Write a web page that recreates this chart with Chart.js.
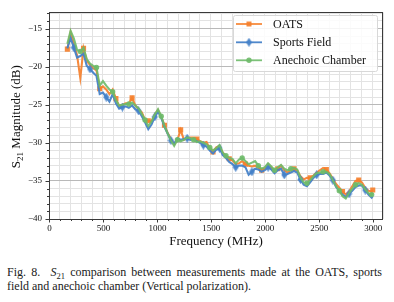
<!DOCTYPE html>
<html>
<head>
<meta charset="utf-8">
<script src="https://cdn.jsdelivr.net/npm/chart.js@4.4.1/dist/chart.umd.min.js"></script>
<style>
    html, body { margin: 0; padding: 0; background: #fff; }
    #wrap { position: relative; width: 394px; height: 302px; }
    #chart { position: absolute; left: 0; top: 0; }
    .cap {
        position: absolute; left: 7px;
        font-family: "Liberation Serif", "Times New Roman", serif;
        font-size: 12px; line-height: 13.3px; color: #1a1a1a;
        white-space: nowrap;
    }
    .cap sub { font-size: 8.5px; line-height: 0; vertical-align: -2.5px; }
    #cap1 { top: 266px; }
    #cap2 { top: 279.5px; }
</style>
</head>
<body>
<div id="wrap">
    <canvas id="chart" width="394" height="250"></canvas>
    <div class="cap" id="cap1"><span id="cap1in">Fig. 8.&nbsp; <i>S</i><sub>21</sub> comparison between measurements made at the OATS, sports</span></div>
    <div class="cap" id="cap2">field and anechoic chamber (Vertical polarization).</div>
</div>
<script>
(function () {
    "use strict";

    // frequency (MHz)
    const freqs = [
        170, 200, 230, 260, 290, 320, 350, 380, 410, 440,
        470, 500, 530, 560, 590, 620, 650, 680, 710, 740,
        770, 800, 830, 860, 890, 920, 950, 980, 1010, 1040,
        1070, 1100, 1130, 1160, 1190, 1220, 1250, 1280, 1310, 1340,
        1370, 1400, 1430, 1460, 1490, 1520, 1550, 1580, 1610, 1640,
        1670, 1700, 1730, 1760, 1790, 1820, 1850, 1880, 1910, 1940,
        1970, 2000, 2030, 2060, 2090, 2120, 2150, 2180, 2210, 2240,
        2270, 2300, 2330, 2360, 2390, 2420, 2450, 2480, 2510, 2540,
        2570, 2600, 2630, 2660, 2690, 2720, 2750, 2780, 2810, 2840,
        2870, 2900, 2930, 2960, 2990, 3000,
    ];

    // S21 (dB)
    const oats = [
        -17.7, -15.5, -17.0, -18.5, -21.5, -17.6, -19.2, -19.8, -20.2, -20.5,
        -22.9, -22.6, -23.0, -23.6, -23.0, -24.2, -25.2, -25.0, -24.8, -24.8,
        -24.1, -25.1, -25.6, -26.0, -27.0, -27.1, -27.2, -26.3, -25.7, -26.6,
        -27.7, -28.7, -29.5, -30.2, -29.6, -28.3, -29.6, -29.4, -29.3, -29.3,
        -29.5, -29.8, -30.0, -29.9, -30.8, -31.2, -30.6, -30.4, -31.3, -31.7,
        -32.1, -32.3, -32.8, -32.7, -32.4, -32.8, -33.0, -33.1, -33.0, -33.3,
        -33.6, -33.4, -32.8, -33.2, -33.7, -33.4, -33.0, -33.6, -33.9, -33.6,
        -33.4, -33.6, -34.4, -34.8, -34.6, -34.6, -34.3, -33.9, -33.6, -33.3,
        -33.5, -34.0, -34.7, -35.4, -35.9, -36.4, -36.8, -36.4, -35.7, -35.0,
        -34.9, -35.2, -35.9, -36.3, -36.4, -36.2,
    ];
    const sportsField = [
        -17.6, -16.2, -17.5, -18.8, -18.6, -18.3, -19.9, -20.3, -20.8, -21.2,
        -23.6, -23.4, -24.0, -24.6, -23.6, -24.8, -25.5, -25.3, -25.2, -25.4,
        -25.1, -25.6, -25.8, -26.5, -27.3, -28.2, -27.6, -26.6, -25.9, -26.7,
        -27.9, -28.8, -29.7, -30.1, -29.4, -29.6, -29.5, -29.4, -29.6, -29.5,
        -29.8, -30.0, -30.3, -30.5, -31.0, -31.4, -30.9, -30.7, -31.6, -32.0,
        -32.5, -32.8, -33.2, -33.0, -33.0, -33.2, -34.2, -33.8, -33.4, -33.5,
        -33.8, -33.6, -33.2, -33.5, -34.0, -33.6, -33.4, -34.2, -34.1, -33.9,
        -33.7, -33.9, -34.8, -35.5, -35.7, -35.2, -34.6, -34.2, -34.1, -34.1,
        -33.9, -34.3, -34.9, -35.8, -36.3, -36.8, -37.1, -36.7, -36.3, -35.8,
        -35.6, -35.6, -36.2, -36.8, -37.2, -37.0,
    ];
    const anechoic = [
        -17.0, -15.3, -16.3, -17.8, -18.0, -17.5, -19.0, -19.6, -19.9, -20.1,
        -22.5, -21.9, -22.5, -23.0, -23.3, -24.4, -25.1, -25.0, -24.9, -24.9,
        -24.7, -25.1, -25.5, -26.2, -27.0, -27.8, -27.2, -26.3, -25.6, -26.5,
        -27.8, -28.8, -29.7, -30.4, -29.6, -29.8, -29.6, -29.3, -29.4, -29.6,
        -29.9, -29.8, -30.0, -30.2, -30.6, -31.0, -30.7, -30.3, -31.3, -31.7,
        -32.0, -32.1, -32.7, -32.2, -32.0, -32.4, -32.8, -32.6, -32.4, -33.0,
        -33.4, -33.2, -32.7, -33.1, -33.6, -33.2, -32.9, -33.4, -33.6, -33.4,
        -33.3, -33.5, -34.6, -35.2, -35.3, -34.9, -34.4, -34.0, -33.9, -33.8,
        -33.8, -34.1, -34.9, -35.7, -36.3, -37.0, -37.3, -36.6, -36.0, -35.5,
        -35.3, -35.5, -36.1, -36.6, -36.8, -36.6,
    ];

    const seriesNames = ["OATS", "Sports Field", "Anechoic Chamber"];
    const xTicks = [0, 500, 1000, 1500, 2000, 2500, 3000];
    const yTicks = [-40, -35, -30, -25, -20, -15];

    const ORANGE = "rgba(245, 128, 45, 0.92)";
    const BLUE = "rgba(70, 130, 200, 0.95)";
    const GREEN = "rgba(110, 186, 105, 0.9)";
    const SERIF = "'Liberation Serif', 'Times New Roman', serif";

    // stretch the first caption line to the full text width
    const cap1 = document.getElementById("cap1in");
    const gaps = cap1.textContent.split(/[ \u00a0]/).length - 1;
    const natural = cap1.getBoundingClientRect().width;
    cap1.style.wordSpacing = ((375 - natural) / gaps) + "px";

    // thin diamond marker (matplotlib "d")
    function thinDiamond(color) {
        const c = document.createElement("canvas");
        c.width = 7;
        c.height = 9;
        const g = c.getContext("2d");
        g.fillStyle = color;
        g.beginPath();
        g.moveTo(3.5, 0);
        g.lineTo(6.5, 4.5);
        g.lineTo(3.5, 9);
        g.lineTo(0.5, 4.5);
        g.closePath();
        g.fill();
        return c;
    }
    const diamond = thinDiamond(BLUE);

    const toPoints = (vals) => vals.map((v, i) => ({ x: freqs[i], y: v }));
    const every = (n, off, r) => (ctx) => (ctx.dataIndex % n === off ? r : 0);

    const minus = (v) => (v < 0 ? "\u2212" + Math.abs(v) : String(v));

    // ticks, frame, x tick labels, axis titles, legend
    const decor = {
        id: "decor",
        afterDatasetsDraw(chart) {
            const { ctx, chartArea: a, scales } = chart;
            ctx.save();
            ctx.strokeStyle = "#3a3a3a";
            ctx.lineWidth = 1;
            ctx.beginPath();
            for (let v = 0; v <= 3000; v += 100) {
                const x = Math.round(scales.x.getPixelForValue(v)) + 0.5;
                const len = v % 500 === 0 ? 3.5 : 2;
                ctx.moveTo(x, a.bottom);
                ctx.lineTo(x, a.bottom + len);
            }
            for (let v = -40; v <= -13; v += 1) {
                const y = Math.round(scales.y.getPixelForValue(v)) + 0.5;
                const len = v % 5 === 0 ? 3.5 : 2;
                ctx.moveTo(a.left, y);
                ctx.lineTo(a.left - len, y);
            }
            ctx.stroke();
            ctx.strokeRect(Math.round(a.left) + 0.5, Math.round(a.top) + 0.5,
                Math.round(a.right - a.left) - 1, Math.round(a.bottom - a.top));

            // x tick labels
            ctx.fillStyle = "#111";
            ctx.font = "9px " + SERIF;
            ctx.textAlign = "center";
            ctx.textBaseline = "middle";
            xTicks.forEach((v) => {
                ctx.fillText(String(v), scales.x.getPixelForValue(v) + 0.5, a.bottom + 10);
            });

            // x title
            ctx.font = "13px " + SERIF;
            ctx.fillText("Frequency (MHz)", (a.left + a.right) / 2, 242);

            // y title with subscript
            ctx.save();
            ctx.translate(15, (a.top + a.bottom) / 2 + 1);
            ctx.rotate(-Math.PI / 2);
            ctx.textAlign = "left";
            ctx.textBaseline = "alphabetic";
            const big = "13px " + SERIF, small = "9px " + SERIF;
            ctx.font = big;
            const wS = ctx.measureText("S").width;
            const wRest = ctx.measureText(" Magnitude (dB)").width;
            ctx.font = small;
            const wSub = ctx.measureText("21").width;
            const x0 = -(wS + wSub + wRest) / 2;
            const base = 4.5;
            ctx.font = big;
            ctx.fillText("S", x0, base);
            ctx.font = small;
            ctx.fillText("21", x0 + wS, base + 3);
            ctx.font = big;
            ctx.fillText(" Magnitude (dB)", x0 + wS + wSub, base);
            ctx.restore();

            // legend
            const bx = 233, by = 15, bw = 144, bh = 56;
            ctx.fillStyle = "rgba(255,255,255,0.85)";
            ctx.strokeStyle = "#d8d8d8";
            ctx.beginPath();
            ctx.roundRect(bx + 0.5, by + 0.5, bw, bh, 2);
            ctx.fill();
            ctx.stroke();
            const colors = [ORANGE, BLUE, GREEN];
            const rows = [24, 42.3, 60.3];
            ctx.font = "12px " + SERIF;
            ctx.textBaseline = "middle";
            ctx.textAlign = "left";
            seriesNames.forEach((name, i) => {
                const y = rows[i];
                ctx.strokeStyle = colors[i];
                ctx.lineWidth = 1.8;
                ctx.beginPath();
                ctx.moveTo(236, y);
                ctx.lineTo(262, y);
                ctx.stroke();
                ctx.fillStyle = colors[i];
                if (i === 0) {
                    ctx.fillRect(246.5, y - 2.5, 5, 5);
                } else if (i === 1) {
                    ctx.drawImage(diamond, 249 - 3.5, y - 4.5);
                } else {
                    ctx.beginPath();
                    ctx.arc(249, y, 2.7, 0, Math.PI * 2);
                    ctx.fill();
                }
                ctx.fillStyle = "#111";
                ctx.fillText(name, 273, y + 0.5);
            });
            ctx.restore();
        },
    };

    const chartEl = document.getElementById("chart");
    new Chart(chartEl.getContext("2d"), {
        type: "line",
        data: {
            datasets: [
                {
                    label: seriesNames[0],
                    data: toPoints(oats),
                    borderColor: ORANGE,
                    backgroundColor: ORANGE,
                    borderWidth: 2.1,
                    pointStyle: "rect",
                    pointRadius: every(5, 0, 3.6),
                    pointBorderWidth: 0,
                    tension: 0,
                    order: 3,
                },
                {
                    label: seriesNames[1],
                    data: toPoints(sportsField),
                    borderColor: BLUE,
                    backgroundColor: BLUE,
                    borderWidth: 2.1,
                    pointStyle: diamond,
                    pointRadius: every(5, 2, 3),
                    pointBorderWidth: 0,
                    tension: 0,
                    order: 2,
                },
                {
                    label: seriesNames[2],
                    data: toPoints(anechoic),
                    borderColor: GREEN,
                    backgroundColor: GREEN,
                    borderWidth: 2.1,
                    pointStyle: "circle",
                    pointRadius: every(5, 4, 2.7),
                    pointBorderWidth: 0,
                    tension: 0,
                    order: 1,
                },
            ],
        },
        options: {
            responsive: false,
            animation: false,
            events: [],
            layout: {
                padding: { left: 0, right: 11, top: 7, bottom: 0 },
            },
            plugins: {
                legend: { display: false },
                tooltip: { enabled: false },
            },
            scales: {
                x: {
                    type: "linear",
                    min: 0,
                    max: 3095,
                    afterFit: (s) => { s.height = 31; },
                    ticks: {
                        display: false,
                        stepSize: 100,
                        includeBounds: false,
                        autoSkip: false,
                        maxRotation: 0,
                    },
                    grid: {
                        drawTicks: false,
                        color: (c) => (c.tick && c.tick.value % 500 === 0 ? "#b9b9b9" : "#e3e3e3"),
                    },
                    border: { display: false },
                },
                y: {
                    type: "linear",
                    min: -40,
                    max: -12.88,
                    afterFit: (s) => { s.width = 49; },
                    ticks: {
                        stepSize: 1,
                        includeBounds: false,
                        autoSkip: false,
                        padding: 7,
                        color: "#111",
                        font: { family: SERIF, size: 9 },
                        callback: (v) => (yTicks.includes(v) ? minus(v) : ""),
                    },
                    grid: {
                        drawTicks: false,
                        color: (c) => (c.tick && c.tick.value % 5 === 0 ? "#b9b9b9" : "#e3e3e3"),
                    },
                    border: { display: false },
                },
            },
        },
        plugins: [decor],
    });
})();
</script>
</body>
</html>
